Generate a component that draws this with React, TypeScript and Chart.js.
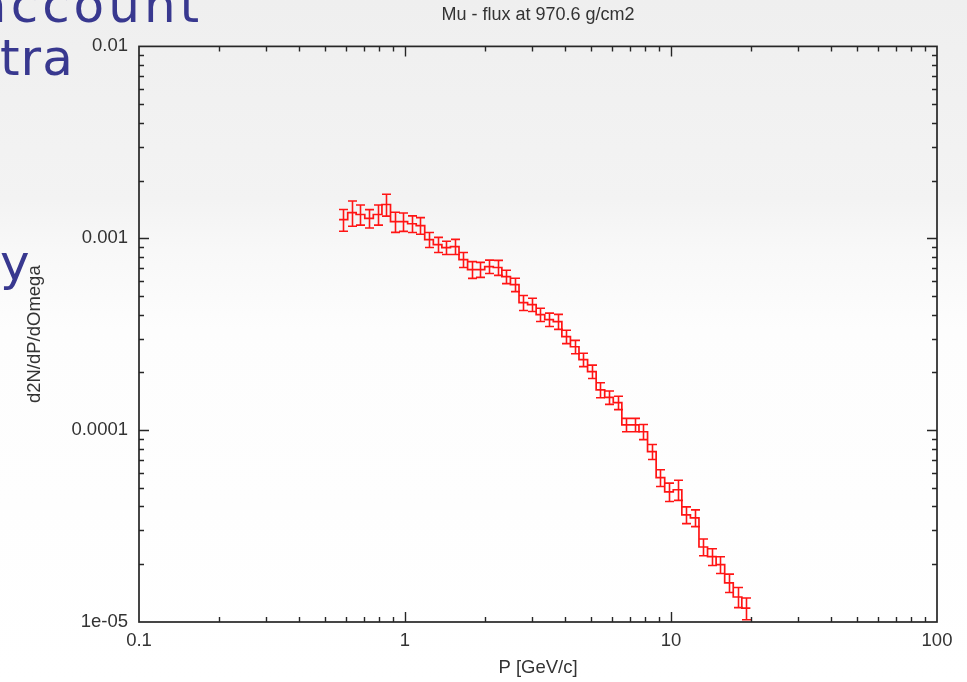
import React, { useEffect, useRef } from "react";
import { Chart, registerables } from "chart.js";

Chart.register(...registerables);

// ---- data ----
const pEdges = [
  0.565, 0.609, 0.655, 0.706, 0.76, 0.819, 0.882, 0.95, 1.023, 1.102, 1.186, 1.278,
  1.376, 1.482, 1.596, 1.719, 1.852, 1.994, 2.148, 2.313, 2.491, 2.683, 2.89, 3.112,
  3.352, 3.61, 3.888, 4.187, 4.509, 4.857, 5.231, 5.633, 6.067, 6.534, 7.038, 7.579,
  8.163, 8.792, 9.469, 10.198, 10.983, 11.829, 12.739, 13.72, 14.777, 15.915, 17.14,
  18.46, 19.881,
];

const flux = [
  1.25e-3, 1.36e-3, 1.33e-3, 1.27e-3, 1.33e-3, 1.5e-3, 1.22e-3, 1.22e-3, 1.19e-3, 1.165e-3,
  9.84e-4, 9.27e-4, 8.94e-4, 9.05e-4, 7.74e-4, 6.87e-4, 6.87e-4, 7.12e-4, 7.04e-4, 6.31e-4,
  5.73e-4, 4.62e-4, 4.51e-4, 4.0e-4, 3.77e-4, 3.68e-4, 3.07e-4, 2.72e-4, 2.33e-4, 2.02e-4,
  1.62e-4, 1.48e-4, 1.39e-4, 1.066e-4, 1.066e-4, 9.81e-5, 7.72e-5, 5.65e-5, 4.77e-5, 4.89e-5,
  3.62e-5, 3.49e-5, 2.46e-5, 2.19e-5, 1.99e-5, 1.6e-5, 1.35e-5, 1.18e-5,
];

const fluxRelErr = [
  0.13, 0.15, 0.12, 0.11, 0.12, 0.13, 0.12, 0.11, 0.1, 0.1,
  0.09, 0.09, 0.08, 0.09, 0.09, 0.1, 0.09, 0.08, 0.09, 0.08,
  0.08, 0.09, 0.08, 0.08, 0.08, 0.09, 0.08, 0.08, 0.08, 0.08,
  0.09, 0.08, 0.08, 0.08, 0.08, 0.09, 0.09, 0.1, 0.11, 0.12,
  0.1, 0.1, 0.1, 0.1, 0.1, 0.11, 0.12, 0.13,
];

const xTickValues = [0.1, 1, 10, 100];
const xTickLabels = ["0.1", "1", "10", "100"];
const yTickValues = [0.01, 0.001, 0.0001, 0.00001];
const yTickLabels = ["0.01", "0.001", "0.0001", "1e-05"];
const minorMultiples = [2, 3, 4, 5, 6, 7, 8, 9];

const chartTitle = "Mu - flux at 970.6 g/cm2";
const xTitle = "P [GeV/c]";
const yTitle = "d2N/dP/dOmega";

// ---- styles ----
const RED = "#ff1414";
const AXIS = "#262626";
const TEXT = "#333333";
const FONT = "'Liberation Sans', Arial, sans-serif";
const FS = 18.5;

function labelFor(values: number[], labels: string[], v: number) {
  for (let i = 0; i < values.length; i++) {
    if (Math.abs(Math.log10(values[i]) - Math.log10(v)) < 1e-6) return labels[i];
  }
  return "";
}

const framePlugin = {
  id: "gnuFrame",
  afterDraw(chart: any) {
    const { ctx, chartArea: a, scales } = chart;
    const xs = scales.x;
    const ys = scales.y;
    ctx.save();
    ctx.strokeStyle = AXIS;
    ctx.lineWidth = 1.4;
    ctx.beginPath();
    const majorLen = 10;
    const minorLen = 5;
    for (let d = 0; d < xTickValues.length; d++) {
      const base = xTickValues[d];
      const vals = [{ v: base, major: true }].concat(
        minorMultiples.map((m) => ({ v: base * m, major: false }))
      );
      for (const t of vals) {
        if (t.v <= xs.min * 1.0001 || t.v >= xs.max * 0.9999) continue;
        const px = Math.round(xs.getPixelForValue(t.v)) + 0.5;
        const len = t.major ? majorLen : minorLen;
        ctx.moveTo(px, a.bottom);
        ctx.lineTo(px, a.bottom - len);
        ctx.moveTo(px, a.top);
        ctx.lineTo(px, a.top + len);
      }
    }
    for (let d = 0; d < yTickValues.length; d++) {
      const base = yTickValues[d];
      const vals = [{ v: base, major: true }].concat(
        minorMultiples.map((m) => ({ v: base * m, major: false }))
      );
      for (const t of vals) {
        if (t.v <= ys.min * 1.0001 || t.v >= ys.max * 0.9999) continue;
        const py = Math.round(ys.getPixelForValue(t.v)) + 0.5;
        const len = t.major ? majorLen : minorLen;
        ctx.moveTo(a.left, py);
        ctx.lineTo(a.left + len, py);
        ctx.moveTo(a.right, py);
        ctx.lineTo(a.right - len, py);
      }
    }
    ctx.stroke();
    ctx.lineWidth = 1.7;
    ctx.strokeRect(a.left, a.top, a.right - a.left, a.bottom - a.top);
    ctx.restore();
  },
};

const errorBarPlugin = {
  id: "errBars",
  afterDatasetsDraw(chart: any) {
    const { ctx, chartArea: a, scales } = chart;
    const xs = scales.x;
    const ys = scales.y;
    ctx.save();
    ctx.beginPath();
    ctx.rect(a.left, a.top, a.right - a.left, a.bottom - a.top);
    ctx.clip();
    ctx.strokeStyle = RED;
    ctx.lineWidth = 1.6;
    ctx.beginPath();
    for (let i = 0; i < flux.length; i++) {
      const xc = Math.sqrt(pEdges[i] * pEdges[i + 1]);
      const px = Math.round(xs.getPixelForValue(xc)) + 0.5;
      const lo = flux[i] * (1 - fluxRelErr[i]);
      const hi = flux[i] * (1 + fluxRelErr[i]);
      const pyLo = ys.getPixelForValue(lo);
      const pyHi = ys.getPixelForValue(hi);
      const cap = 4.5;
      ctx.moveTo(px, pyLo);
      ctx.lineTo(px, pyHi);
      ctx.moveTo(px - cap, pyLo);
      ctx.lineTo(px + cap, pyLo);
      ctx.moveTo(px - cap, pyHi);
      ctx.lineTo(px + cap, pyHi);
    }
    ctx.stroke();
    ctx.restore();
  },
};

export default function App() {
  const canvasRef = useRef<HTMLCanvasElement | null>(null);

  useEffect(() => {
    if (!canvasRef.current) return;
    const stepPoints = flux.map((v, i) => ({ x: pEdges[i], y: v }));
    stepPoints.push({ x: pEdges[pEdges.length - 1], y: flux[flux.length - 1] });

    const lh = FS * 1.2;
    const chart = new Chart(canvasRef.current, {
      type: "line",
      data: {
        datasets: [
          {
            label: "mu flux",
            data: stepPoints,
            stepped: true,
            borderColor: RED,
            borderWidth: 1.7,
            pointRadius: 0,
            fill: false,
          },
        ],
      },
      options: {
        responsive: false,
        animation: false,
        events: [],
        layout: { padding: { left: 0, right: 30, top: 0, bottom: 0 } },
        plugins: {
          legend: { display: false },
          tooltip: { enabled: false },
          title: {
            display: true,
            text: chartTitle,
            fullSize: false,
            color: TEXT,
            font: { family: FONT, size: FS - 0.5, weight: "normal" },
            padding: { top: 15 - lh / 2, bottom: 47 - (15 - lh / 2) - lh },
          },
        },
        scales: {
          x: {
            type: "logarithmic",
            min: 0.1,
            max: 100,
            afterBuildTicks: (s: any) => {
              s.ticks = xTickValues.map((v) => ({ value: v }));
            },
            afterFit: (s: any) => {
              s.height = 60;
            },
            ticks: {
              autoSkip: false,
              maxRotation: 0,
              padding: 8,
              color: TEXT,
              font: { family: FONT, size: FS },
              callback: (v: any) => labelFor(xTickValues, xTickLabels, Number(v)),
            },
            grid: { display: true, drawOnChartArea: false, drawTicks: false },
            border: { display: false },
            title: {
              display: true,
              text: xTitle,
              color: TEXT,
              font: { family: FONT, size: FS },
              padding: { top: 2, bottom: 682 - 668 - lh / 2 },
            },
          },
          y: {
            type: "logarithmic",
            min: 0.00001,
            max: 0.01,
            afterBuildTicks: (s: any) => {
              s.ticks = yTickValues.map((v) => ({ value: v }));
            },
            afterFit: (s: any) => {
              s.width = 139;
            },
            ticks: {
              autoSkip: false,
              padding: 11,
              color: TEXT,
              font: { family: FONT, size: FS },
              callback: (v: any) => labelFor(yTickValues, yTickLabels, Number(v)),
            },
            grid: { display: true, drawOnChartArea: false, drawTicks: false },
            border: { display: false },
            title: {
              display: true,
              text: yTitle,
              color: TEXT,
              font: { family: FONT, size: FS },
              padding: { top: 35 - lh / 2, bottom: 0 },
            },
          },
        },
      },
      plugins: [errorBarPlugin, framePlugin],
    } as any);

    return () => chart.destroy();
  }, []);

  const slideText: React.CSSProperties = {
    position: "absolute",
    color: "#38388f",
    fontFamily: "'DejaVu Sans', sans-serif",
    fontSize: 50,
    lineHeight: "1",
    whiteSpace: "nowrap",
  };

  return (
    <div
      style={{
        position: "fixed",
        left: 0,
        top: 0,
        width: 967,
        height: 682,
        overflow: "hidden",
        background:
          "linear-gradient(to bottom, #efefef 0px, #f3f3f3 200px, #f8f8f8 250px, #fdfdfd 330px, #ffffff 100%)",
      }}
    >
      <div style={{ ...slideText, left: -24, top: -20, letterSpacing: 4 }}>account</div>
      <div style={{ ...slideText, left: 0, top: 33, letterSpacing: 1 }}>tra</div>
      <div style={{ ...slideText, left: 0, top: 238 }}>y</div>
      <canvas
        ref={canvasRef}
        width={967}
        height={682}
        style={{ position: "absolute", left: 0, top: 0, width: 967, height: 682 }}
      />
    </div>
  );
}
